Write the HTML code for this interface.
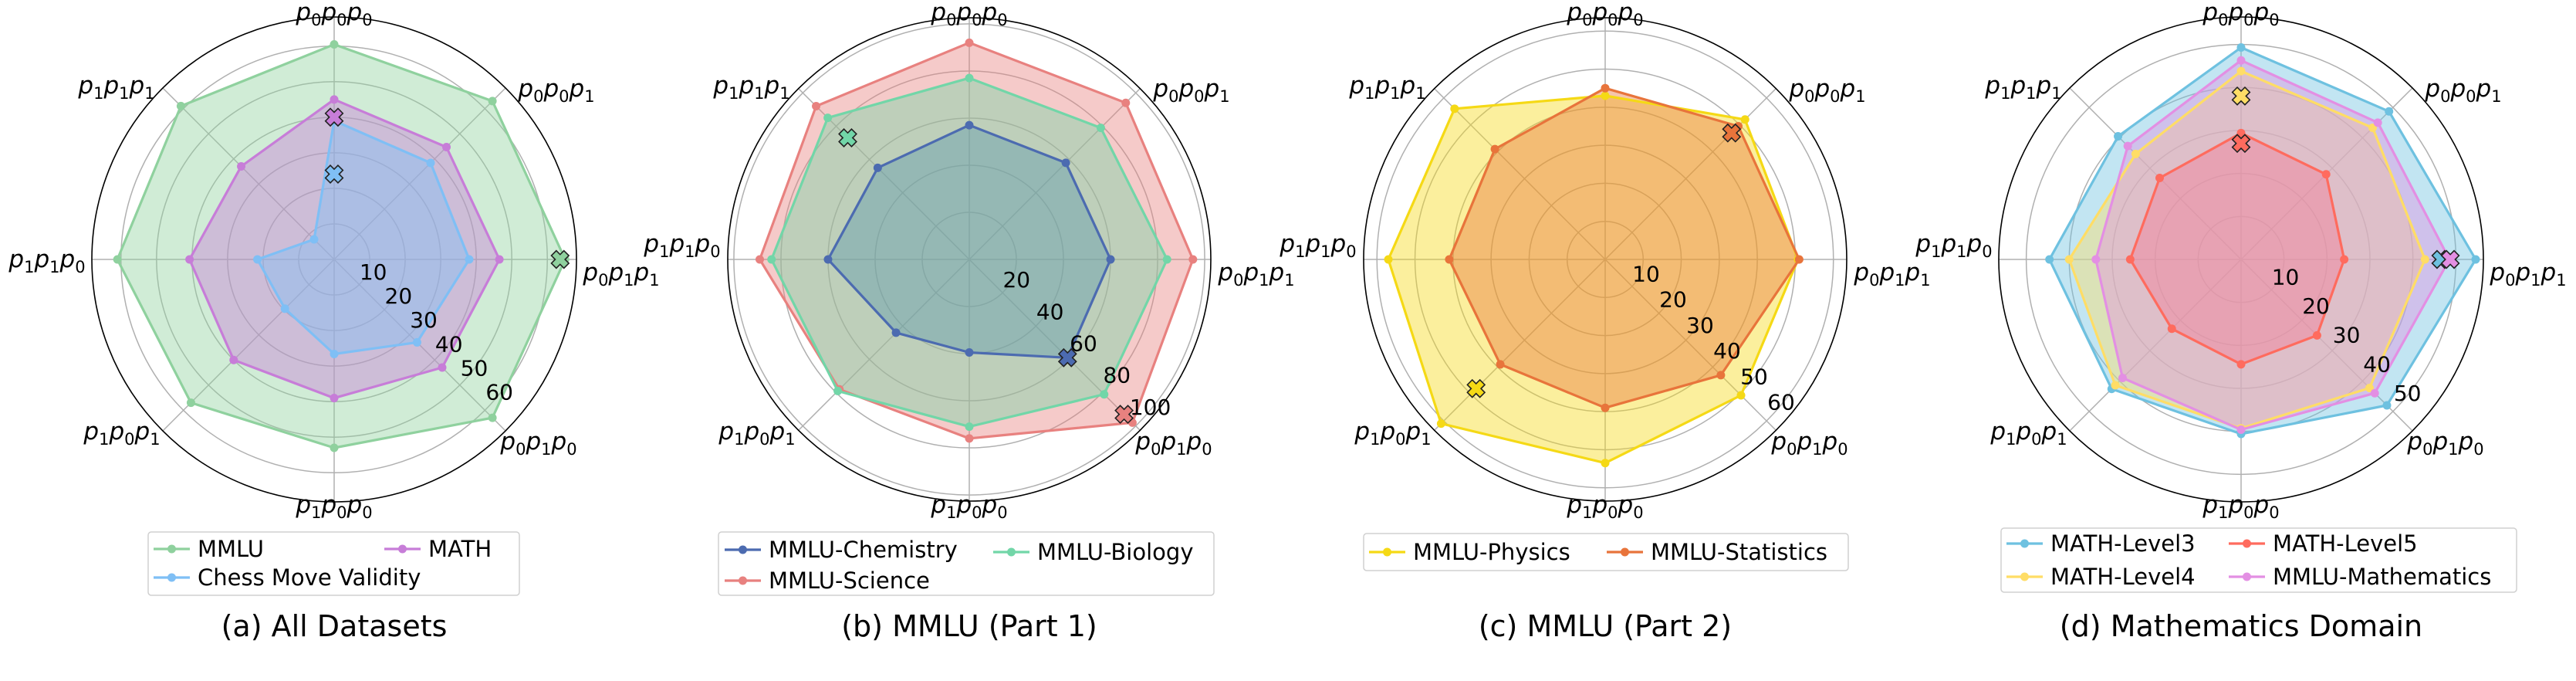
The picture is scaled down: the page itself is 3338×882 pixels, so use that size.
<!DOCTYPE html>
<html><head><meta charset="utf-8">
<style>
html,body{margin:0;padding:0;background:#fff;}
svg{display:block;font-family:"DejaVu Sans","Liberation Sans",sans-serif;}
</style></head>
<body>
<svg id="chart" xmlns="http://www.w3.org/2000/svg" width="3338" height="882" viewBox="0 0 3338 882"></svg>
<script>
// ---- data ----
const axisLabels = [["0","0","0"],["0","0","1"],["0","1","1"],["0","1","0"],["1","0","0"],["1","0","1"],["1","1","0"],["1","1","1"]];
const ticksA = [10,20,30,40,50,60];
const ticksB = [20,40,60,80,100];
const ticksC = [10,20,30,40,50,60];
const ticksD = [10,20,30,40,50];
// panel a
const mmluVals  = [60.5,63,65,63,53,57,61,61];
const mathVals  = [45,44.7,46.5,43,39,40,40.7,37];
const chessVals = [39,38.4,38,33,26.6,19.6,21.6,8];
// panel b
const scienceVals   = [92,94,95,98,76,78,89,92];
const biologyVals   = [77,79,84,81,71,79,84,85];
const chemistryVals = [57,58,60,59,39.5,44,60,55];
// panel c
const physicsVals    = [43,52,50.7,50.5,53.5,61,57,56];
const statisticsVals = [45,49.5,51,43,39,39,41,41];
// panel d
const level3Vals   = [49.3,48.7,54.6,48,40.6,42.6,44.6,40.5];
const mmluMathVals = [46.3,45,48.5,44,39.6,39,33.8,37.3];
const level4Vals   = [43.8,43.3,42.8,42.3,39.3,41.4,40,34.7];
const level5Vals   = [29.4,28,24,25,24.4,22.8,25.8,26.8];
// cross markers: [axisIndex, value, color]
const crossA = [[0,40,'#C77DD8'],[0,24,'#7FBFF5'],[2,63.6,'#8FD19E']];
const crossB = [[7,73,'#72D6A8'],[3,59,'#4C6BB0'],[3,93,'#E8817F']];
const crossC = [[5,48,'#F5D915'],[1,47,'#E8743B']];
const crossD = [[0,38,'#FFDD66'],[0,27,'#FF6B5E'],[2,46.5,'#6EC1E0'],[2,48.7,'#E38FE3']];

const NS="http://www.w3.org/2000/svg";
const svg=document.getElementById('chart');
function mk(tag,attrs,parent){const e=document.createElementNS(NS,tag);for(const k in attrs)e.setAttribute(k,attrs[k]);(parent||svg).appendChild(e);return e;}

const panels=[
 {id:'a',cx:433,cy:336,R:314,rmax:68.2,ticks:ticksA,leftDy:0,
  series:[['MMLU','#8FD19E',mmluVals],['MATH','#C77DD8',mathVals],['Chess Move Validity','#7FBFF5',chessVals]],
  cross:crossA,
  legend:{x:192,y:689,w:481,h:82,items:[[0,199,711],[1,498,711],[2,199,748]]},
  title:'(a) All Datasets'},
 {id:'b',cx:1256,cy:336,R:313,rmax:102.6,ticks:ticksB,leftDy:-20,
  series:[['MMLU-Science','#E8817F',scienceVals],['MMLU-Chemistry','#4C6BB0',chemistryVals],['MMLU-Biology','#72D6A8',biologyVals]],
  cross:crossB,
  legend:{x:931,y:689,w:642,h:82,items:[[1,939,712],[2,1287,715],[0,939,752]]},
  title:'(b) MMLU (Part 1)'},
 {id:'c',cx:2080,cy:336,R:313,rmax:63.5,ticks:ticksC,leftDy:-20,
  series:[['MMLU-Physics','#F5D915',physicsVals],['MMLU-Statistics','#E8743B',statisticsVals]],
  cross:crossC,
  legend:{x:1767,y:691,w:628,h:48,items:[[0,1774,715],[1,2082,715]]},
  title:'(c) MMLU (Part 2)'},
 {id:'d',cx:2904,cy:336,R:314,rmax:56.4,ticks:ticksD,leftDy:-20,
  series:[['MATH-Level3','#6EC1E0',level3Vals],['MATH-Level4','#FFDD66',level4Vals],['MATH-Level5','#FF6B5E',level5Vals],['MMLU-Mathematics','#E38FE3',mmluMathVals]],
  cross:crossD,
  legend:{x:2593,y:684,w:668,h:83,items:[[0,2600,704],[2,2888,704],[1,2600,747],[3,2888,747]]},
  title:'(d) Mathematics Domain'}
];

const labelOff=[[0,-320],[288,-221],[372,17],[265,236],[0,318],[-275,223],[-372,0],[-282,-225]];

function pt(p,i,v){const a=(-90+45*i)*Math.PI/180;const r=v/p.rmax*p.R;return [p.cx+r*Math.cos(a),p.cy+r*Math.sin(a)];}

function axisLabel(g,x,y,subs){
  const t=mk('text',{x:x,y:y+10,'text-anchor':'middle','font-size':31,fill:'#000'},g);
  subs.forEach((s,k)=>{
    const p=mk('tspan',{'font-style':'italic',dy:k===0?0:-7},t);p.textContent='p';
    const q=mk('tspan',{'font-size':21,dy:7},t);q.textContent=s;
  });
  return t;
}

panels.forEach(p=>{
  const g=mk('g',{});
  
  
  p.ticks.forEach(t=>{
    const c=mk('circle',{cx:p.cx,cy:p.cy,r:t/p.rmax*p.R,fill:'none',stroke:'#b0b0b0','stroke-width':1.5},g);
    
    
  });
  for(let i=0;i<8;i++){
    const e=pt(p,i,p.rmax);
    const l=mk('line',{x1:p.cx,y1:p.cy,x2:e[0],y2:e[1],stroke:'#b0b0b0','stroke-width':1.5},g);
    
    
  }
  // fills first
  p.series.forEach(s=>{
    const pts=s[2].map((v,i)=>pt(p,i,v));
    const d=pts.map(q=>q[0].toFixed(1)+','+q[1].toFixed(1)).join(' ');
    const poly=mk('polygon',{points:d,fill:s[1],'fill-opacity':0.42,stroke:'none'},g);
    
    
  });
  // then lines and points
  p.series.forEach(s=>{
    const pts=s[2].map((v,i)=>pt(p,i,v));
    const d=pts.map(q=>q[0].toFixed(1)+','+q[1].toFixed(1)).join(' ');
    const poly=mk('polygon',{points:d,fill:'none',stroke:s[1],'stroke-width':3.2,'stroke-linejoin':'round'},g);
    
    
    pts.forEach(q=>{
      const c=mk('circle',{cx:q[0],cy:q[1],r:5.5,fill:s[1]},g);
      
      
    });
  });
  p.cross.forEach(cr=>{
    const q=pt(p,cr[0],cr[1]);const a=4.5,L=11.5;
    const pp=[[-a,-L],[a,-L],[a,-a],[L,-a],[L,a],[a,a],[a,L],[-a,L],[-a,a],[-L,a],[-L,-a],[-a,-a]].map(z=>z.join(',')).join(' ');
    const x=mk('polygon',{points:pp,fill:cr[2],stroke:'#222','stroke-width':1.6,transform:`translate(${q[0].toFixed(1)},${q[1].toFixed(1)}) rotate(45)`},g);
    
    
  });
  const fr=mk('circle',{cx:p.cx,cy:p.cy,r:p.R,fill:'none',stroke:'#000','stroke-width':1.6},g);
  
  
  p.ticks.forEach(t=>{
    const r=t/p.rmax*p.R;
    const tx=mk('text',{x:p.cx+18+0.71*r,y:p.cy-15+0.675*r+10,'text-anchor':'middle','font-size':28,fill:'#000'},g);
    tx.textContent=t;
    
    
  });
  for(let i=0;i<8;i++){
    const o=labelOff[i];const dy=(i===6)?p.leftDy:0;
    const t=axisLabel(g,p.cx+o[0],p.cy+o[1]+dy,axisLabels[i]);
    
    
  }
  const lg=p.legend;
  const box=mk('rect',{x:lg.x,y:lg.y,width:lg.w,height:lg.h,rx:4,fill:'#fff','fill-opacity':0.8,stroke:'#d0d0d0','stroke-width':1.5},g);
  
  
  lg.items.forEach(it=>{
    const s=p.series[it[0]];
    const eg=mk('g',{},g);
    
    
    mk('line',{x1:it[1],y1:it[2],x2:it[1]+47,y2:it[2],stroke:s[1],'stroke-width':3.2},eg);
    mk('circle',{cx:it[1]+23.5,cy:it[2],r:5.5,fill:s[1]},eg);
    const tx=mk('text',{x:it[1]+57,y:it[2]+10,'font-size':29,fill:'#000'},eg);
    tx.textContent=s[0];
  });
  const tt=mk('text',{x:p.cx,y:824,'text-anchor':'middle','font-size':38,fill:'#000'},g);
  tt.textContent=p.title;
  
  
});
</script>
</body></html>
